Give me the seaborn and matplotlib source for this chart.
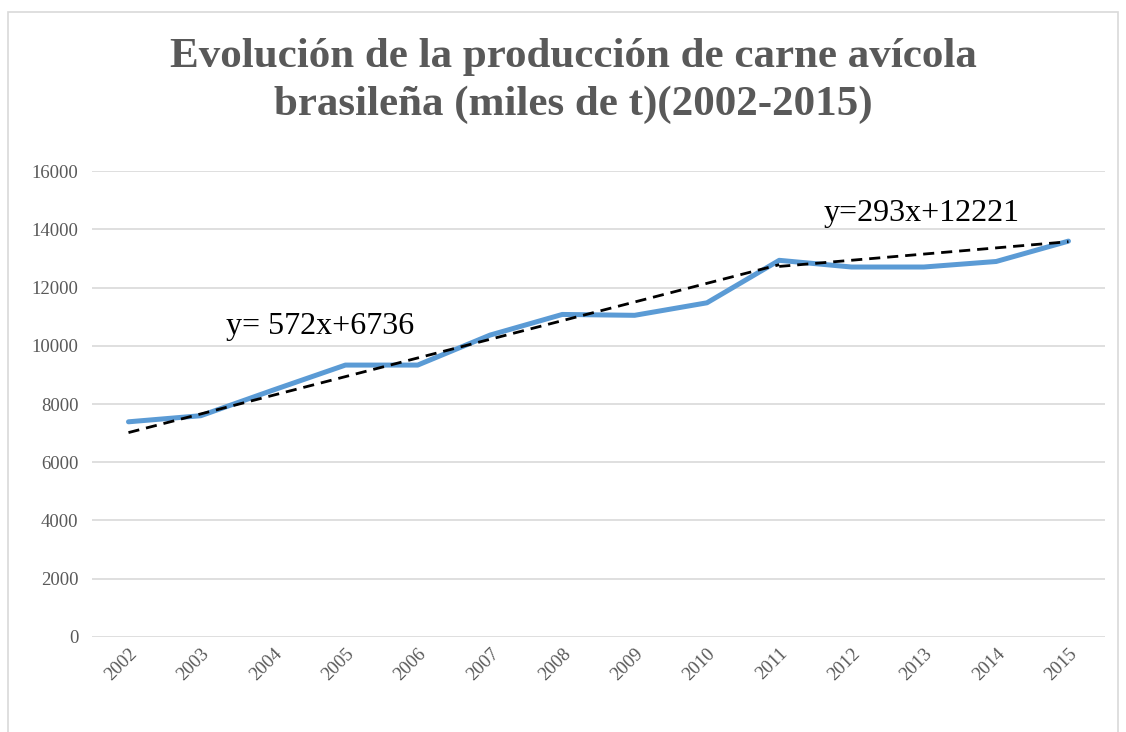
import matplotlib
matplotlib.use("Agg")
import matplotlib.pyplot as plt
import seaborn as sns
import pandas as pd
from matplotlib.patches import Rectangle
from matplotlib.transforms import ScaledTranslation

# ------------------------------------------
# Data
# ------------------------------------------
years = [2002, 2003, 2004, 2005, 2006, 2007, 2008,
         2009, 2010, 2011, 2012, 2013, 2014, 2015]
production = [7390, 7600, 8480, 9340, 9340, 10370, 11080,
              11050, 11480, 12940, 12710, 12710, 12900, 13600]

# trend lines as drawn (start/end)
trend1_years = [2002, 2011]
trend1_vals = [7020, 12790]
trend2_years = [2011, 2015]
trend2_vals = [12730, 13580]

trend_labels = ["y= 572x+6736", "y=293x+12221"]
label_x = [2003.35, 2011.62]
label_y = [10650, 14550]

title = "Evolución de la producción de carne avícola\nbrasileña (miles de t)(2002-2015)"

df = pd.DataFrame({"year": years, "prod": production})
t1 = pd.DataFrame({"year": trend1_years, "val": trend1_vals})
t2 = pd.DataFrame({"year": trend2_years, "val": trend2_vals})

# ------------------------------------------
# Plot
# ------------------------------------------
sns.set_style("white")
fig = plt.figure(figsize=(11.26, 7.32), dpi=100)
ax = fig.add_axes([0.082, 0.130, 0.899, 0.636])

sns.lineplot(data=df, x="year", y="prod", ax=ax, color="#5B9BD5", linewidth=3.6)
sns.lineplot(data=t1, x="year", y="val", ax=ax, color="black", linewidth=2.0,
             linestyle=(0, (4, 2.5)))
sns.lineplot(data=t2, x="year", y="val", ax=ax, color="black", linewidth=2.0,
             linestyle=(0, (4, 2.5)))

for lab, lx, ly in zip(trend_labels, label_x, label_y):
    ax.text(lx, ly, lab, fontsize=23, family="Liberation Serif",
            color="black", ha="left", va="center")

ax.set_xlim(2001.5, 2015.5)
ax.set_ylim(0, 16000)
ax.set_yticks(range(0, 16001, 2000))
ax.set_xticks(years)
ax.set_xticklabels([str(y) for y in years], rotation=45, ha="right",
                   rotation_mode="anchor", fontsize=13.5, color="#595959",
                   family="Liberation Serif")
shift = ScaledTranslation(-5 / 100, -3 / 100, fig.dpi_scale_trans)
for lab in ax.get_xticklabels():
    lab.set_transform(lab.get_transform() + shift)
for lab in ax.get_yticklabels():
    lab.set_fontsize(13.5)
    lab.set_color("#595959")
    lab.set_family("Liberation Serif")
ax.tick_params(axis="y", length=0, pad=10)
ax.tick_params(axis="x", length=0, pad=6)
ax.grid(axis="y", color="#d9d9d9", linewidth=1.2)
ax.set_axisbelow(True)
for s in ax.spines.values():
    s.set_visible(False)
ax.set_xlabel("")
ax.set_ylabel("")

fig.text(0.509, 1 - 81 / 732, title, ha="center", va="center",
         fontsize=31, fontweight="bold", color="#595959",
         family="Liberation Serif", linespacing=1.3)

# chart area border
fig.patches.append(Rectangle((8 / 1126, -0.1), (1118 - 8) / 1126, 1 - 12 / 732 + 0.1,
                             transform=fig.transFigure, fill=False,
                             edgecolor="#d9d9d9", linewidth=1.2))

fig.savefig("out.png", dpi=100)
